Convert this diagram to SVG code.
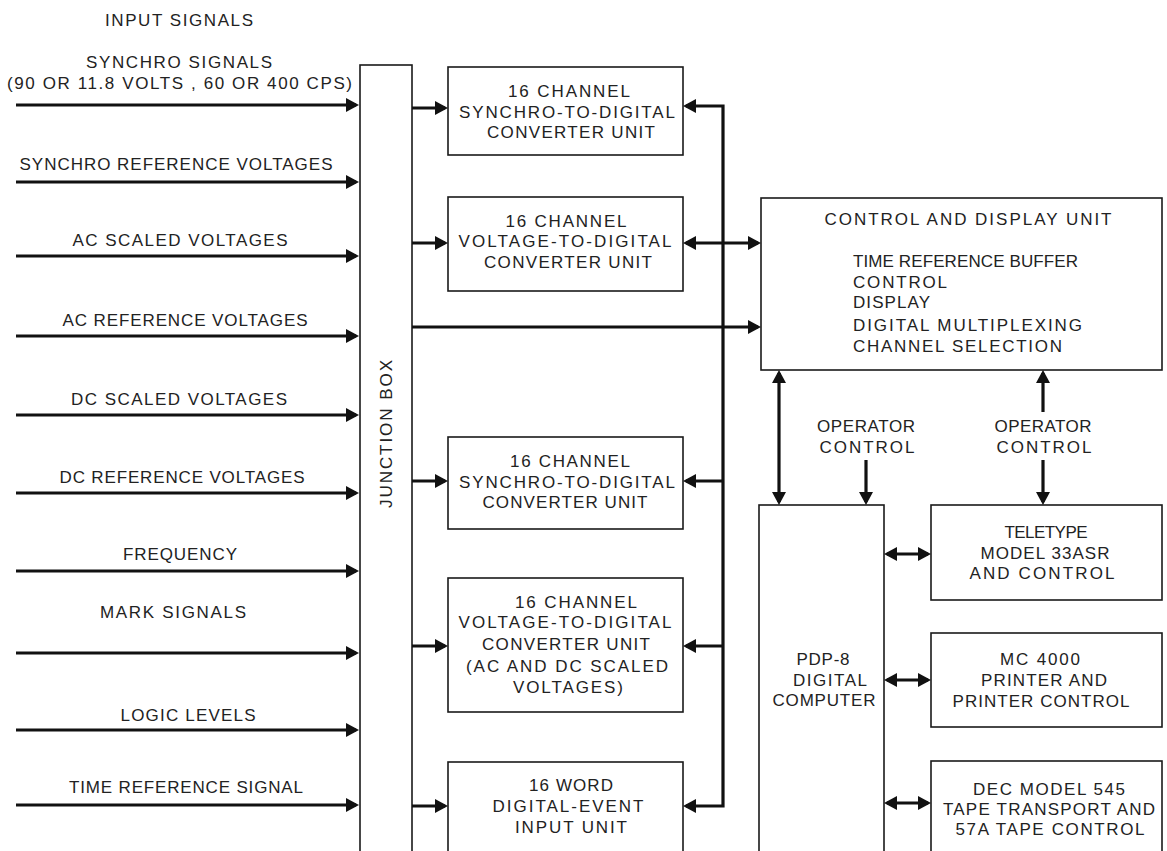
<svg xmlns="http://www.w3.org/2000/svg" width="1167" height="851" viewBox="0 0 1167 851">
  <defs>
    <style>
      .box { fill: none; stroke: #1a1a1a; stroke-width: 1.6; }
      .wire { fill: none; stroke: #111; stroke-width: 3.2; }
      .one { marker-end: url(#head); }
      .two { marker-start: url(#head); marker-end: url(#head); }
      text { font-family: "Liberation Sans", Arial, sans-serif; font-size: 17px; fill: #222; }
      .c { text-anchor: middle; }
    </style>
    <!-- solid triangular arrowhead; tip sits 3px past the wire end -->
    <marker id="head" markerUnits="userSpaceOnUse" markerWidth="14" markerHeight="15" viewBox="0 0 14 15" refX="10" refY="7.5" orient="auto-start-reverse">
      <path d="M0,0.5 L13,7.5 L0,14.5 z" fill="#111"/>
    </marker>
  </defs>
  <rect width="1167" height="851" fill="#fff"/>

  <!-- input signal labels -->
  <g id="input-labels">
    <text class="c" x="179" y="26" textLength="148" lengthAdjust="spacing">INPUT SIGNALS</text>
    <text class="c" x="179" y="68" textLength="186" lengthAdjust="spacing">SYNCHRO SIGNALS</text>
    <text class="c" x="179.5" y="89" textLength="345" lengthAdjust="spacing">(90 OR 11.8 VOLTS , 60 OR 400 CPS)</text>
    <text class="c" x="176" y="170" textLength="313" lengthAdjust="spacing">SYNCHRO REFERENCE VOLTAGES</text>
    <text class="c" x="180" y="246" textLength="215" lengthAdjust="spacing">AC SCALED VOLTAGES</text>
    <text class="c" x="185" y="326" textLength="245" lengthAdjust="spacing">AC REFERENCE VOLTAGES</text>
    <text class="c" x="179" y="405" textLength="216" lengthAdjust="spacing">DC SCALED VOLTAGES</text>
    <text class="c" x="182" y="483" textLength="245" lengthAdjust="spacing">DC REFERENCE VOLTAGES</text>
    <text class="c" x="180" y="560" textLength="114" lengthAdjust="spacing">FREQUENCY</text>
    <text class="c" x="173" y="618" textLength="146" lengthAdjust="spacing">MARK SIGNALS</text>
    <text class="c" x="188" y="721" textLength="135" lengthAdjust="spacing">LOGIC LEVELS</text>
    <text class="c" x="186" y="793" textLength="234" lengthAdjust="spacing">TIME REFERENCE SIGNAL</text>
  </g>

  <!-- junction box -->
  <g id="junction-box">
    <rect class="box" x="360" y="65" width="52" height="800"/>
    <text class="c" transform="translate(392,434) rotate(-90)" x="0" y="0" textLength="148" lengthAdjust="spacing">JUNCTION BOX</text>
  </g>

  <!-- converter units -->
  <g id="synchro-converter-1">
    <rect class="box" x="448" y="67" width="235" height="88"/>
    <text class="c" x="569" y="97" textLength="122" lengthAdjust="spacing">16 CHANNEL</text>
    <text class="c" x="567" y="118" textLength="216" lengthAdjust="spacing">SYNCHRO-TO-DIGITAL</text>
    <text class="c" x="571" y="138" textLength="168" lengthAdjust="spacing">CONVERTER UNIT</text>
  </g>
  <g id="voltage-converter-1">
    <rect class="box" x="448" y="197" width="235" height="94"/>
    <text class="c" x="566" y="227" textLength="121" lengthAdjust="spacing">16 CHANNEL</text>
    <text class="c" x="565" y="247" textLength="213" lengthAdjust="spacing">VOLTAGE-TO-DIGITAL</text>
    <text class="c" x="568" y="268" textLength="168" lengthAdjust="spacing">CONVERTER UNIT</text>
  </g>
  <g id="synchro-converter-2">
    <rect class="box" x="448" y="437" width="235" height="92"/>
    <text class="c" x="570" y="467" textLength="120" lengthAdjust="spacing">16 CHANNEL</text>
    <text class="c" x="567" y="488" textLength="216" lengthAdjust="spacing">SYNCHRO-TO-DIGITAL</text>
    <text class="c" x="565" y="508" textLength="165" lengthAdjust="spacing">CONVERTER UNIT</text>
  </g>
  <g id="voltage-converter-2">
    <rect class="box" x="448" y="578" width="235" height="134"/>
    <text class="c" x="576" y="608" textLength="122" lengthAdjust="spacing">16 CHANNEL</text>
    <text class="c" x="565" y="628" textLength="213" lengthAdjust="spacing">VOLTAGE-TO-DIGITAL</text>
    <text class="c" x="566" y="650" textLength="168" lengthAdjust="spacing">CONVERTER UNIT</text>
    <text class="c" x="567" y="672" textLength="202" lengthAdjust="spacing">(AC AND DC SCALED</text>
    <text class="c" x="568" y="693" textLength="110" lengthAdjust="spacing">VOLTAGES)</text>
  </g>
  <g id="digital-event-unit">
    <rect class="box" x="448" y="762" width="235" height="110"/>
    <text class="c" x="571" y="791" textLength="84" lengthAdjust="spacing">16 WORD</text>
    <text class="c" x="568" y="812" textLength="151" lengthAdjust="spacing">DIGITAL-EVENT</text>
    <text class="c" x="571" y="833" textLength="112" lengthAdjust="spacing">INPUT UNIT</text>
  </g>

  <!-- control and display unit -->
  <g id="control-display-unit">
    <rect class="box" x="761" y="198" width="401" height="172"/>
    <text class="c" x="968" y="225" textLength="287" lengthAdjust="spacing">CONTROL AND DISPLAY UNIT</text>
    <text x="853" y="267" textLength="225" lengthAdjust="spacing">TIME REFERENCE BUFFER</text>
    <text x="853" y="288" textLength="94" lengthAdjust="spacing">CONTROL</text>
    <text x="853" y="308" textLength="77" lengthAdjust="spacing">DISPLAY</text>
    <text x="853" y="331" textLength="229" lengthAdjust="spacing">DIGITAL MULTIPLEXING</text>
    <text x="853" y="352" textLength="209" lengthAdjust="spacing">CHANNEL SELECTION</text>
  </g>

  <!-- operator control labels -->
  <g id="operator-control-1">
    <text class="c" x="866" y="432" textLength="98" lengthAdjust="spacing">OPERATOR</text>
    <text class="c" x="867" y="453" textLength="95" lengthAdjust="spacing">CONTROL</text>
  </g>
  <g id="operator-control-2">
    <text class="c" x="1043" y="432" textLength="97" lengthAdjust="spacing">OPERATOR</text>
    <text class="c" x="1044" y="453" textLength="95" lengthAdjust="spacing">CONTROL</text>
  </g>

  <!-- computer and peripherals -->
  <g id="pdp8-computer">
    <rect class="box" x="759" y="505" width="125" height="360"/>
    <text class="c" x="823" y="665" textLength="53" lengthAdjust="spacing">PDP-8</text>
    <text class="c" x="830" y="686" textLength="74" lengthAdjust="spacing">DIGITAL</text>
    <text class="c" x="824" y="706" textLength="103" lengthAdjust="spacing">COMPUTER</text>
  </g>
  <g id="teletype">
    <rect class="box" x="931" y="505" width="231" height="95"/>
    <text class="c" x="1046" y="538" textLength="83" lengthAdjust="spacing">TELETYPE</text>
    <text class="c" x="1045" y="559" textLength="129" lengthAdjust="spacing">MODEL 33ASR</text>
    <text class="c" x="1042" y="579" textLength="145" lengthAdjust="spacing">AND CONTROL</text>
  </g>
  <g id="printer">
    <rect class="box" x="931" y="633" width="231" height="94"/>
    <text class="c" x="1040" y="665" textLength="80" lengthAdjust="spacing">MC 4000</text>
    <text class="c" x="1044" y="686" textLength="126" lengthAdjust="spacing">PRINTER AND</text>
    <text class="c" x="1041" y="707" textLength="177" lengthAdjust="spacing">PRINTER CONTROL</text>
  </g>
  <g id="tape-transport">
    <rect class="box" x="931" y="761" width="231" height="110"/>
    <text class="c" x="1049" y="795" textLength="152" lengthAdjust="spacing">DEC MODEL 545</text>
    <text class="c" x="1049" y="815" textLength="212" lengthAdjust="spacing">TAPE TRANSPORT AND</text>
    <text class="c" x="1050" y="835" textLength="189" lengthAdjust="spacing">57A TAPE CONTROL</text>
  </g>

  <!-- connectors -->
  <g id="connectors">
    <!-- input signals into the junction box -->
    <line class="wire one" x1="16" y1="105" x2="356" y2="105"/>
    <line class="wire one" x1="16" y1="182" x2="356" y2="182"/>
    <line class="wire one" x1="16" y1="256" x2="356" y2="256"/>
    <line class="wire one" x1="16" y1="336" x2="356" y2="336"/>
    <line class="wire one" x1="16" y1="415" x2="356" y2="415"/>
    <line class="wire one" x1="16" y1="493" x2="356" y2="493"/>
    <line class="wire one" x1="16" y1="571" x2="356" y2="571"/>
    <line class="wire one" x1="16" y1="653" x2="356" y2="653"/>
    <line class="wire one" x1="16" y1="730" x2="356" y2="730"/>
    <line class="wire one" x1="16" y1="805" x2="356" y2="805"/>

    <!-- junction box to converter units -->
    <line class="wire one" x1="412" y1="108" x2="445" y2="108"/>
    <line class="wire one" x1="412" y1="243" x2="445" y2="243"/>
    <line class="wire one" x1="412" y1="481" x2="445" y2="481"/>
    <line class="wire one" x1="412" y1="646" x2="445" y2="646"/>
    <line class="wire one" x1="412" y1="806" x2="445" y2="806"/>

    <!-- AC reference straight through to the control and display unit -->
    <line class="wire one" x1="412" y1="327" x2="758" y2="327"/>

    <!-- converter bus -->
    <path class="wire two" d="M686,106 H723 V806 H686"/>
    <line class="wire one" x1="723" y1="481" x2="686" y2="481"/>
    <line class="wire one" x1="723" y1="646" x2="686" y2="646"/>
    <line class="wire two" x1="686" y1="243" x2="758" y2="243"/>

    <!-- control unit to computer and teletype -->
    <line class="wire two" x1="779" y1="373" x2="779" y2="502"/>
    <line class="wire one" x1="866" y1="460" x2="866" y2="502"/>
    <line class="wire one" x1="1043" y1="412" x2="1043" y2="373"/>
    <line class="wire one" x1="1043" y1="460" x2="1043" y2="502"/>

    <!-- computer to peripherals -->
    <line class="wire two" x1="887" y1="554" x2="928" y2="554"/>
    <line class="wire two" x1="887" y1="680" x2="928" y2="680"/>
    <line class="wire two" x1="887" y1="803" x2="928" y2="803"/>
  </g>
</svg>
